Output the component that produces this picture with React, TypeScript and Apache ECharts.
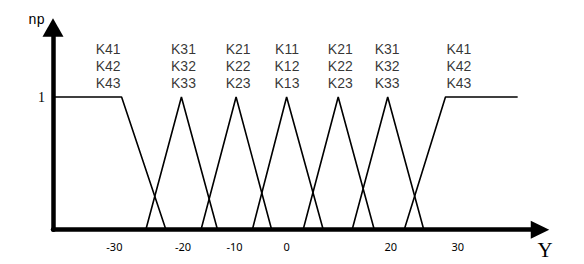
import React, { useEffect, useRef } from "react";
import * as echarts from "echarts";

// Membership functions (x in Y units, y in np)
const shoulderLeft: [number, number][] = [[-45.2, 1], [-31.9, 1], [-23.3, 0]];
const triK3Left: [number, number][] = [[-27.2, 0], [-20.3, 1], [-13.3, 0]];
const triK2Left: [number, number][] = [[-16.5, 0], [-9.7, 1], [-2.8, 0]];
const triK1: [number, number][] = [[-6.55, 0], [0.1, 1], [7.2, 0]];
const triK2Right: [number, number][] = [[3.3, 0], [10.1, 1], [17.1, 0]];
const triK3Right: [number, number][] = [[12.8, 0], [19.7, 1], [26.7, 0]];
const shoulderRight: [number, number][] = [[22.9, 0], [30.9, 1], [44.9, 1]];

// Term labels above each function
const termLabelX = [-34.5, -19.9, -9.3, 0.17, 10.5, 19.6, 33.5];
const termLabels = [
  ["K41", "K42", "K43"],
  ["K31", "K32", "K33"],
  ["K21", "K22", "K23"],
  ["K11", "K12", "K13"],
  ["K21", "K22", "K23"],
  ["K31", "K32", "K33"],
  ["K41", "K42", "K43"],
];

// X tick labels (positions as drawn in the picture)
const xTickValues = [-33.3, -20, -10, 0.1, 20.3, 33.3];
const xTickLabels = ["-30", "-20", "-10", "0", "20", "30"];

// Y tick labels
const yTickValues = [1];
const yTickLabels = ["1"];

const X_MIN = -45.2;
const X_MAX = 49.23;
const Y_MIN = 0;
const Y_MAX = 1.524;

export default function App() {
  const ref = useRef<HTMLDivElement>(null);

  useEffect(() => {
    if (!ref.current) return;
    const chart = echarts.init(ref.current, undefined, { renderer: "svg" });

    const lineSeries = [
      shoulderLeft,
      triK3Left,
      triK2Left,
      triK1,
      triK2Right,
      triK3Right,
      shoulderRight,
    ].map((d) => ({
      type: "line",
      data: d,
      showSymbol: false,
      symbol: "none",
      lineStyle: { color: "#000", width: 1.6 },
      z: 3,
    }));

    chart.setOption({
      animation: false,
      backgroundColor: "#fff",
      grid: { left: 53, right: 44, top: 27.5, bottom: 34.3 },
      xAxis: {
        type: "value",
        min: X_MIN,
        max: X_MAX,
        name: "Y",
        nameLocation: "end",
        nameGap: 5,
        nameTextStyle: {
          fontFamily: "Liberation Serif",
          fontSize: 21,
          color: "#000",
          align: "center",
          verticalAlign: "top",
          padding: [10, 0, 0, 0],
        },
        axisLine: {
          show: true,
          onZero: false,
          symbol: ["none", "triangle"],
          symbolSize: [18, 18.5],
          lineStyle: { color: "#000", width: 4.5 },
        },
        axisTick: { show: false },
        splitLine: { show: false },
        axisLabel: {
          customValues: xTickValues,
          formatter: (v: number) => {
            const i = xTickValues.indexOf(v);
            return i >= 0 ? xTickLabels[i] : "";
          },
          fontFamily: "Noto Sans",
          fontSize: 11,
          color: "#000",
          margin: 11.5,
        },
      },
      yAxis: {
        type: "value",
        min: Y_MIN,
        max: Y_MAX,
        name: "np",
        nameLocation: "end",
        nameGap: 1,
        nameTextStyle: {
          fontFamily: "Liberation Mono",
          fontSize: 14,
          color: "#000",
          align: "right",
          verticalAlign: "bottom",
          padding: [0, 8, 0, 0],
        },
        axisLine: {
          show: true,
          onZero: false,
          symbol: ["none", "triangle"],
          symbolSize: [21, 18.4],
          lineStyle: { color: "#000", width: 4.5 },
        },
        axisTick: { show: false },
        splitLine: { show: false },
        axisLabel: {
          customValues: yTickValues,
          formatter: (v: number) => {
            const i = yTickValues.indexOf(v);
            return i >= 0 ? yTickLabels[i] : "";
          },
          fontFamily: "Liberation Serif",
          fontSize: 14,
          color: "#000",
          margin: 8,
        },
      },
      series: [
        ...lineSeries,
        {
          type: "scatter",
          symbolSize: 0,
          itemStyle: { color: "transparent" },
          data: termLabelX.map((x) => [x, 1]),
          label: {
            show: true,
            position: "top",
            distance: 6,
            formatter: (p: any) => termLabels[p.dataIndex].join("\n"),
            fontFamily: "Liberation Sans",
            fontSize: 14,
            lineHeight: 16.7,
            color: "#000",
          },
          z: 4,
        },
      ],
    });

    return () => chart.dispose();
  }, []);

  return (
    <div
      ref={ref}
      style={{ position: "absolute", left: 0, top: 0, width: 584, height: 264 }}
    />
  );
}
